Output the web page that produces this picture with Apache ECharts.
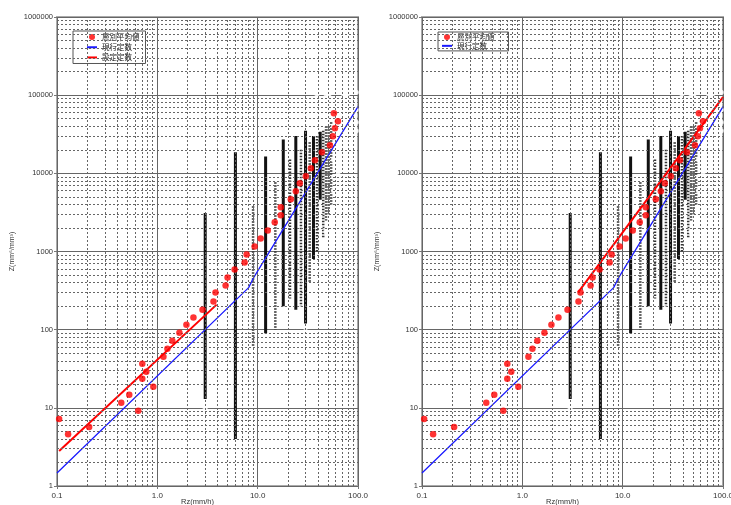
<!DOCTYPE html>
<html>
<head>
<meta charset="utf-8">
<script src="https://cdn.jsdelivr.net/npm/echarts@6/dist/echarts.min.js"></script>
<style>
html, body { margin: 0; padding: 0; background: #fff; }
#chart { width: 731px; height: 505px; }
</style>
</head>
<body>
<div id="chart"></div>
<script>
// Layer-averaged Z for each rain-rate class (red dots)
const meanRz = [0.105, 0.129, 0.209, 0.437, 0.525, 0.646, 0.708, 0.776, 0.708, 0.912,
  1.15, 1.26, 1.41, 1.66, 1.95, 2.29, 2.82, 3.63, 3.80, 4.79,
  5.01, 5.89, 7.41, 7.76, 9.33, 10.7, 12.6, 14.8, 17.0, 17.0,
  21.4, 24.0, 26.3, 30.2, 33.9, 37.2, 43.7, 52.5, 56.2, 58.9,
  63.1, 57.5];
const meanZ = [7.2, 4.6, 5.7, 11.6, 14.7, 9.2, 36.6, 28.9, 23.5, 18.6,
  45.1, 57.1, 72.3, 91.5, 116, 143, 180, 229, 298, 367,
  464, 588, 722, 915, 1160, 1470, 1860, 2360, 2900, 3670,
  4650, 5880, 7450, 9160, 11600, 14700, 18600, 22900, 29800, 37700,
  46400, 58800];

// Current Z-R relation (blue), vertices of the polyline
const currentRz = [0.1, 8.13, 9.12, 100];
const currentZ = [1.47, 345, 464, 71200];

// Fitted relation: low-rate fit (left panel) and high-rate fit (right panel)
const fitLowRz = [0.105, 3.9];
const fitLowZ = [2.8, 209];
const fitHighRz = [3.6, 100];
const fitHighZ = [300, 94200];

// Gauge rain-rate columns packed with observations: [Rz, Z top, Z bottom]
const denseCols = [
  [3, 3100, 13], [6, 18600, 4], [12, 16400, 90], [18, 27000, 200],
  [24, 30000, 180], [30, 35000, 120], [36, 30000, 800], [42, 34000, 4600]
];
// Columns with looser spacing of observations
const looseCols = [
  [9, 3800, 60], [15, 7700, 100], [21, 15000, 250], [27, 20000, 200],
  [33, 25000, 400], [39, 30000, 1000], [45, 35000, 1500], [48, 40000, 2500],
  [51, 40000, 3000], [54, 45000, 4000]
];

// Individual observations: rain rate and the Z values recorded at it
const obsRz = [3, 6, 9, 12, 15, 18, 21, 24, 27, 30, 33, 36, 39, 42, 45, 48, 51, 54,
  57, 60, 63, 66, 69, 72, 75, 78, 81, 84, 87, 90, 93, 96];
const obsZ = [
  [11.3, 9.7, 8.4, 7.2, 6.1, 5.1],
  [3.6, 3.2],
  [90000, 8000, 6000, 45, 35],
  [40000, 28000, 22000, 70, 58],
  [50000, 30000, 20000, 12000, 80, 62],
  [170000, 62000, 45000, 35000, 150, 120, 18.6, 10.9],
  [60000, 40000, 25000, 20000, 180, 140],
  [70000, 58000, 50000, 40000, 140, 110],
  [80000, 62000, 45000, 32000, 27000, 150, 110],
  [126000, 80000, 60000, 45000, 95, 75],
  [90000, 70000, 50000, 38000, 32000, 300, 220],
  [84000, 70000, 60000, 45000, 38000, 600, 450],
  [95000, 75000, 55000, 42000, 36000, 700, 500],
  [77000, 60000, 48000, 40000, 3000, 2000, 1400, 900],
  [90000, 65000, 50000, 42000, 1200, 900],
  [95000, 70000, 55000, 47000, 1800, 1300],
  [100000, 75000, 60000, 50000, 2200, 1600],
  [176000, 85000, 65000, 55000, 2800, 2000],
  [80000, 60000, 50000, 40000, 30000, 22000, 15000, 9000, 6000, 3500, 2200, 1500],
  [110000, 70000, 55000, 45000, 35000, 25000, 18000, 12000, 8000, 5000, 3000, 2000],
  [80000, 62000, 48000, 38000, 28000, 20000, 14000, 10000, 7000, 4500, 2800],
  [90000, 65000, 50000, 40000, 30000, 22000, 16000, 11000, 7500, 5000],
  [87000, 70000, 52000, 42000, 32000, 24000, 17000, 12000, 8000],
  [95000, 60000, 45000, 35000, 26000, 19000, 13000, 9000],
  [100000, 70000, 50000, 38000, 28000, 20000, 14000],
  [97000, 60000, 45000, 33000, 25000, 18000, 12000],
  [120000, 75000, 55000, 40000, 30000, 22000],
  [138000, 65000, 48000, 35000, 26000],
  [90000, 60000, 42000, 30000, 22000],
  [116000, 70000, 50000, 38000, 28000],
  [80000, 55000, 40000, 30000],
  [109000, 65000, 45000, 35000]
];

// Axis decades and the minor steps inside each
const xDecades = [0.1, 1, 10];
const yDecades = [1, 10, 100, 1000, 10000, 100000];
const minorSteps = [2, 3, 4, 5, 6, 7, 8, 9];

const NUM_FONT = '"Liberation Sans", Arial, sans-serif';
const JP_FONT = '"Noto Sans CJK JP", "Noto Sans CJK SC", sans-serif';

const xMinor = [];
xDecades.forEach(d => minorSteps.forEach(k => xMinor.push(+(d * k).toPrecision(3))));
const yMinor = [];
yDecades.forEach(d => minorSteps.forEach(k => yMinor.push(d * k)));

const pairs = (xs, ys) => xs.map((x, i) => [x, ys[i]]);
const obsData = [];
obsRz.forEach((r, i) => obsZ[i].forEach(z => obsData.push([r, z])));

const grids = [
  { left: 57, top: 17, width: 301, height: 469 },
  { left: 422, top: 17, width: 301, height: 469 }
];

function xAxisFor(g) {
  return {
    type: 'log', logBase: 10, min: 0.1, max: 100, splitNumber: 3, gridIndex: g,
    name: 'Rz(mm/h)', nameLocation: 'middle', nameGap: 12, nameMoveOverlap: false,
    nameTextStyle: { fontSize: 7.5, color: '#333', fontFamily: NUM_FONT, padding: [0, 20, 0, 0] },
    axisLine: { show: false },
    axisTick: { show: true, length: 3, lineStyle: { color: '#777' } },
    axisLabel: { fontSize: 8, color: '#333', fontFamily: NUM_FONT, margin: 6,
      hideOverlap: false, formatter: v => Number(v).toFixed(1) },
    splitLine: { show: true, lineStyle: { color: '#666', width: 1 } }
  };
}
function yAxisFor(g) {
  return {
    type: 'log', logBase: 10, min: 1, max: 1000000, splitNumber: 6, gridIndex: g,
    name: 'Z(mm⁶/mm³)', nameLocation: 'middle', nameGap: 41, nameMoveOverlap: false,
    nameTextStyle: { fontSize: 7, color: '#333', fontFamily: NUM_FONT },
    axisLine: { show: false },
    axisTick: { show: true, length: 3, lineStyle: { color: '#777' } },
    axisLabel: { fontSize: 7.5, color: '#333', fontFamily: NUM_FONT, margin: 4,
      formatter: v => String(Math.round(v)) },
    splitLine: { show: true, lineStyle: { color: '#666', width: 1 } }
  };
}

function panelSeries(g, fitRz, fitZ) {
  const out = [];
  // dashed minor grid at 2..9 of every decade
  out.push({
    type: 'line', xAxisIndex: g, yAxisIndex: g, data: [], silent: true, z: 1,
    markLine: {
      silent: true, symbol: ['none', 'none'], label: { show: false },
      lineStyle: { type: [2, 2], color: '#666', width: 1 },
      emphasis: { disabled: true },
      data: xMinor.map(v => ({ xAxis: v })).concat(yMinor.map(v => ({ yAxis: v })))
    }
  });
  denseCols.forEach(c => out.push({
    type: 'line', xAxisIndex: g, yAxisIndex: g, symbol: 'none', silent: true, z: 2,
    data: [[c[0], c[1]], [c[0], c[2]]],
    lineStyle: { color: '#111', width: 3 }
  }));
  looseCols.forEach(c => out.push({
    type: 'line', xAxisIndex: g, yAxisIndex: g, symbol: 'none', silent: true, z: 2,
    data: [[c[0], c[1]], [c[0], c[2]]],
    lineStyle: { color: '#333', width: 2.5, type: [1.5, 1.5] }
  }));
  out.push({
    type: 'scatter', xAxisIndex: g, yAxisIndex: g, silent: true, z: 2,
    data: obsData, symbol: 'emptyCircle', symbolSize: 3.2,
    itemStyle: { color: '#fff', borderColor: '#444', borderWidth: 0.8 }
  });
  out.push({
    name: '現行定数', type: 'line', xAxisIndex: g, yAxisIndex: g, z: 3,
    data: pairs(currentRz, currentZ), symbol: 'none',
    lineStyle: { color: '#1a1aff', width: 1.3 }, itemStyle: { color: '#1a1aff' }
  });
  out.push({
    name: '設定定数', type: 'line', xAxisIndex: g, yAxisIndex: g, z: 4,
    data: pairs(fitRz, fitZ), symbol: 'none',
    lineStyle: { color: '#ff0000', width: 2 }, itemStyle: { color: '#ff0000' }
  });
  out.push({
    name: '層別平均値', type: 'scatter', xAxisIndex: g, yAxisIndex: g, z: 5,
    data: pairs(meanRz, meanZ), symbol: 'circle', symbolSize: 6.5,
    itemStyle: { color: '#ff0000' }
  });
  return out;
}

const legendText = { fontSize: 7.5, color: '#222', fontFamily: JP_FONT };
// legend entries for the lines show only the stroke
const lineEntry = name => ({ name: name, itemStyle: { opacity: 0 } });

const option = {
  animation: false,
  backgroundColor: '#fff',
  grid: grids.map(g => Object.assign({ show: true, borderColor: '#aaa', borderWidth: 2,
    backgroundColor: 'transparent', containLabel: false, outerBoundsMode: 'none' }, g)),
  xAxis: [xAxisFor(0), xAxisFor(1)],
  yAxis: [yAxisFor(0), yAxisFor(1)],
  legend: [
    {
      left: 73, top: 31, orient: 'vertical', itemWidth: 10, itemHeight: 6, itemGap: 2.7,
      padding: [2.3, 6, 2.3, 13], backgroundColor: '#fff', borderColor: '#555', borderWidth: 1,
      borderRadius: 0, textStyle: legendText, selectedMode: false,
      data: ['層別平均値', lineEntry('現行定数'), lineEntry('設定定数')]
    },
    {
      left: 438, top: 32, orient: 'vertical', itemWidth: 10, itemHeight: 6, itemGap: 1.3,
      padding: [1.3, 14, 1.3, 3], backgroundColor: '#fff', borderColor: '#555', borderWidth: 1,
      borderRadius: 0, textStyle: legendText, selectedMode: false,
      data: ['層別平均値', lineEntry('現行定数')]
    }
  ],
  series: panelSeries(0, fitLowRz, fitLowZ).concat(panelSeries(1, fitHighRz, fitHighZ))
};

const chart = echarts.init(document.getElementById('chart'), null, { renderer: 'canvas' });
chart.setOption(option);
</script>
</body>
</html>
